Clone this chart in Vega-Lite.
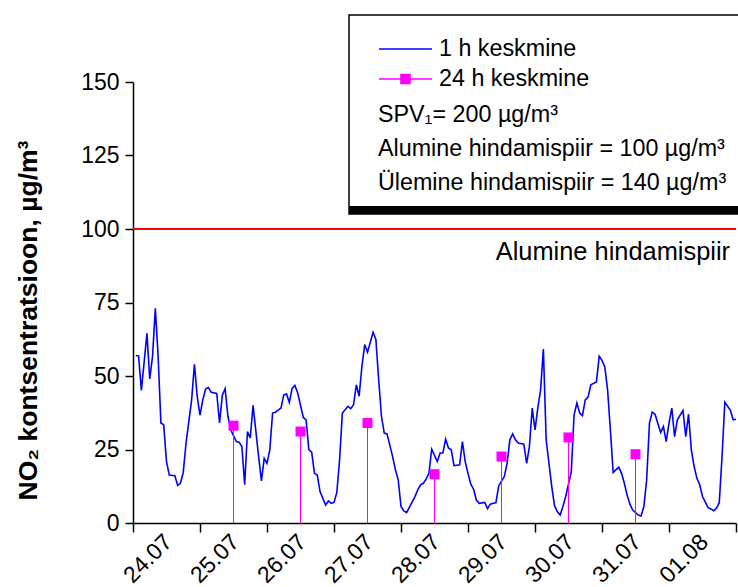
{
  "$schema": "https://vega.github.io/schema/vega-lite/v6.json",
  "width": 603,
  "height": 441,
  "autosize": {"type": "none"},
  "padding": {"left": 133, "top": 82, "right": 2, "bottom": 64},
  "background": "white",
  "config": {
    "view": {"stroke": null},
    "font": "Liberation Sans"
  },
  "datasets": {
    "hourly": [
      {"hour": 1, "no2": 57.0}, {"hour": 2, "no2": 56.8}, {"hour": 3, "no2": 45.1}, {"hour": 5, "no2": 64.5},
      {"hour": 6, "no2": 49.0}, {"hour": 7, "no2": 56.7}, {"hour": 8, "no2": 73.0}, {"hour": 9, "no2": 56.7},
      {"hour": 10, "no2": 34.0}, {"hour": 11, "no2": 33.4}, {"hour": 12, "no2": 20.9}, {"hour": 13, "no2": 16.3},
      {"hour": 15, "no2": 16.1}, {"hour": 16, "no2": 12.8}, {"hour": 17, "no2": 13.5}, {"hour": 18, "no2": 17.2},
      {"hour": 19, "no2": 27.2}, {"hour": 21, "no2": 41.9}, {"hour": 22, "no2": 54.0}, {"hour": 23, "no2": 43.1},
      {"hour": 24, "no2": 36.7}, {"hour": 25, "no2": 41.9}, {"hour": 26, "no2": 45.6}, {"hour": 27, "no2": 46.1},
      {"hour": 28, "no2": 44.5}, {"hour": 30, "no2": 44.1}, {"hour": 31, "no2": 34.0}, {"hour": 32, "no2": 43.5},
      {"hour": 33, "no2": 45.7}, {"hour": 34, "no2": 36.3}, {"hour": 35, "no2": 31.7}, {"hour": 37, "no2": 27.7},
      {"hour": 38, "no2": 27.5}, {"hour": 39, "no2": 26.0}, {"hour": 40, "no2": 13.0}, {"hour": 41, "no2": 31.1},
      {"hour": 42, "no2": 28.9}, {"hour": 43, "no2": 40.0}, {"hour": 45, "no2": 22.6}, {"hour": 46, "no2": 14.3},
      {"hour": 47, "no2": 22.0}, {"hour": 48, "no2": 20.3}, {"hour": 49, "no2": 24.9}, {"hour": 50, "no2": 37.4},
      {"hour": 51, "no2": 37.7}, {"hour": 53, "no2": 39.1}, {"hour": 54, "no2": 43.5}, {"hour": 55, "no2": 43.9},
      {"hour": 56, "no2": 41.0}, {"hour": 57, "no2": 45.8}, {"hour": 58, "no2": 46.8}, {"hour": 59, "no2": 44.2},
      {"hour": 61, "no2": 35.9}, {"hour": 62, "no2": 35.1}, {"hour": 63, "no2": 24.9}, {"hour": 64, "no2": 24.1},
      {"hour": 65, "no2": 16.9}, {"hour": 66, "no2": 16.3}, {"hour": 67, "no2": 10.7}, {"hour": 69, "no2": 6.1},
      {"hour": 70, "no2": 7.5}, {"hour": 71, "no2": 6.7}, {"hour": 72, "no2": 7.0}, {"hour": 73, "no2": 10.3},
      {"hour": 74, "no2": 21.5}, {"hour": 75, "no2": 37.4}, {"hour": 77, "no2": 39.7}, {"hour": 78, "no2": 38.9},
      {"hour": 79, "no2": 40.2}, {"hour": 80, "no2": 47.0}, {"hour": 81, "no2": 43.1}, {"hour": 82, "no2": 53.3},
      {"hour": 83, "no2": 60.7}, {"hour": 84, "no2": 58.1}, {"hour": 86, "no2": 64.9}, {"hour": 87, "no2": 62.4},
      {"hour": 88, "no2": 48.8}, {"hour": 89, "no2": 36.3}, {"hour": 90, "no2": 30.6}, {"hour": 91, "no2": 30.3},
      {"hour": 93, "no2": 22.6}, {"hour": 94, "no2": 18.1}, {"hour": 95, "no2": 14.7}, {"hour": 96, "no2": 5.6},
      {"hour": 97, "no2": 4.1}, {"hour": 98, "no2": 3.5}, {"hour": 99, "no2": 5.3}, {"hour": 101, "no2": 9.0},
      {"hour": 102, "no2": 11.3}, {"hour": 103, "no2": 13.0}, {"hour": 104, "no2": 13.5}, {"hour": 105, "no2": 14.9},
      {"hour": 106, "no2": 16.9}, {"hour": 107, "no2": 25.1}, {"hour": 109, "no2": 20.9}, {"hour": 110, "no2": 23.8},
      {"hour": 111, "no2": 23.8}, {"hour": 112, "no2": 28.5}, {"hour": 113, "no2": 25.5}, {"hour": 114, "no2": 24.9},
      {"hour": 115, "no2": 19.5}, {"hour": 117, "no2": 19.8}, {"hour": 118, "no2": 27.7}, {"hour": 119, "no2": 20.9},
      {"hour": 120, "no2": 16.9}, {"hour": 121, "no2": 13.2}, {"hour": 122, "no2": 11.5}, {"hour": 123, "no2": 7.8},
      {"hour": 124, "no2": 6.7}, {"hour": 126, "no2": 7.0}, {"hour": 127, "no2": 4.9}, {"hour": 128, "no2": 6.4},
      {"hour": 129, "no2": 6.7}, {"hour": 130, "no2": 6.9}, {"hour": 131, "no2": 12.6}, {"hour": 133, "no2": 15.8},
      {"hour": 134, "no2": 20.3}, {"hour": 135, "no2": 28.3}, {"hour": 136, "no2": 30.3}, {"hour": 137, "no2": 28.3},
      {"hour": 138, "no2": 27.2}, {"hour": 140, "no2": 26.8}, {"hour": 141, "no2": 20.3}, {"hour": 142, "no2": 26.0},
      {"hour": 143, "no2": 39.1}, {"hour": 144, "no2": 31.7}, {"hour": 145, "no2": 39.1}, {"hour": 146, "no2": 45.3},
      {"hour": 147, "no2": 59.2}, {"hour": 148, "no2": 28.3}, {"hour": 150, "no2": 12.4}, {"hour": 151, "no2": 5.8},
      {"hour": 152, "no2": 3.9}, {"hour": 153, "no2": 2.7}, {"hour": 154, "no2": 5.6}, {"hour": 155, "no2": 9.0},
      {"hour": 157, "no2": 17.5}, {"hour": 158, "no2": 36.8}, {"hour": 159, "no2": 40.8}, {"hour": 160, "no2": 37.4},
      {"hour": 161, "no2": 36.5}, {"hour": 162, "no2": 41.9}, {"hour": 163, "no2": 42.8}, {"hour": 164, "no2": 47.0},
      {"hour": 166, "no2": 48.0}, {"hour": 167, "no2": 56.7}, {"hour": 168, "no2": 55.3}, {"hour": 169, "no2": 53.1},
      {"hour": 170, "no2": 45.3}, {"hour": 171, "no2": 31.7}, {"hour": 172, "no2": 17.2}, {"hour": 174, "no2": 19.0},
      {"hour": 175, "no2": 16.9}, {"hour": 176, "no2": 13.5}, {"hour": 177, "no2": 9.5}, {"hour": 178, "no2": 6.4},
      {"hour": 179, "no2": 4.4}, {"hour": 181, "no2": 2.7}, {"hour": 182, "no2": 2.4}, {"hour": 183, "no2": 5.6},
      {"hour": 184, "no2": 14.7}, {"hour": 185, "no2": 34.0}, {"hour": 186, "no2": 37.7}, {"hour": 187, "no2": 37.0},
      {"hour": 189, "no2": 30.8}, {"hour": 190, "no2": 32.8}, {"hour": 191, "no2": 27.7}, {"hour": 192, "no2": 34.0},
      {"hour": 193, "no2": 39.1}, {"hour": 194, "no2": 29.4}, {"hour": 195, "no2": 35.1}, {"hour": 197, "no2": 38.3},
      {"hour": 198, "no2": 29.4}, {"hour": 199, "no2": 37.0}, {"hour": 200, "no2": 24.9}, {"hour": 201, "no2": 19.2},
      {"hour": 202, "no2": 15.2}, {"hour": 203, "no2": 13.0}, {"hour": 204, "no2": 9.0}, {"hour": 206, "no2": 5.2},
      {"hour": 207, "no2": 4.8}, {"hour": 208, "no2": 4.2}, {"hour": 209, "no2": 5.0}, {"hour": 210, "no2": 6.9},
      {"hour": 211, "no2": 22.6}, {"hour": 212, "no2": 41.1}, {"hour": 214, "no2": 38.3}, {"hour": 215, "no2": 35.1},
      {"hour": 216, "no2": 35.3}
    ],
    "daily": [
      {"hour": 36, "no2": 33.1}, {"hour": 60, "no2": 31.1}, {"hour": 84, "no2": 34.0}, {"hour": 108, "no2": 16.6},
      {"hour": 132, "no2": 22.6}, {"hour": 156, "no2": 29.1}, {"hour": 180, "no2": 23.4}
    ],
    "limits": [
      {"no2": 100, "label": "Alumine hindamispiir"}
    ]
  },
  "layer": [
    {
      "data": {"name": "limits"},
      "mark": {"type": "rule", "color": "#FF0000", "strokeWidth": 2},
      "encoding": {
        "y": {
          "field": "no2",
          "type": "quantitative",
          "scale": {"domain": [0, 150], "nice": false, "zero": false},
          "axis": {
            "values": [0, 12.5, 25, 37.5, 50, 62.5, 75, 87.5, 100, 112.5, 125, 137.5, 150],
            "labelExpr": "datum.value % 25 === 0 ? datum.label : ''",
            "tickSize": {"condition": {"test": "datum.value % 25 === 0", "value": 8}, "value": 4.5},
            "tickWidth": 1.5,
            "tickColor": "black",
            "domainColor": "black",
            "domainWidth": 1.5,
            "grid": false,
            "labelFont": "Liberation Sans",
            "labelFontSize": 23,
            "labelColor": "black",
            "labelPadding": 6,
            "labelOverlap": false,
            "title": "NO₂ kontsentratsioon, µg/m³",
            "titleFont": "Liberation Sans",
            "titleFontSize": 26.5,
            "titleFontWeight": "bold",
            "titleColor": "black",
            "titlePadding": 38,
            "titleY": 238
          }
        }
      }
    },
    {
      "data": {"name": "limits"},
      "mark": {
        "type": "text",
        "align": "right",
        "baseline": "alphabetic",
        "dx": -6,
        "dy": 31,
        "font": "Liberation Sans",
        "fontSize": 25.4,
        "color": "black"
      },
      "encoding": {
        "x": {"value": "width"},
        "y": {"field": "no2", "type": "quantitative"},
        "text": {"field": "label"}
      }
    },
    {
      "data": {"name": "hourly"},
      "mark": {"type": "line", "strokeWidth": 1.6},
      "encoding": {
        "x": {
          "field": "hour",
          "type": "quantitative",
          "scale": {"domain": [0, 216], "nice": false, "zero": false},
          "axis": {
            "values": [0, 24, 48, 72, 96, 120, 144, 168, 192, 216],
            "labelExpr": "datum.value < 216 ? (datum.value < 192 ? (24 + datum.value / 24) + '.07' : '01.08') : ''",
            "labelOffset": 35,
            "tickSize": 9,
            "tickWidth": 1.5,
            "tickColor": "black",
            "domainColor": "black",
            "domainWidth": 1.5,
            "grid": false,
            "labelAngle": -45,
            "labelAlign": "right",
            "labelBaseline": "middle",
            "labelPadding": 6,
            "labelFont": "Liberation Sans",
            "labelFontSize": 23,
            "labelColor": "black",
            "labelOverlap": false,
            "labelFlush": false,
            "title": null
          }
        },
        "y": {"field": "no2", "type": "quantitative"},
        "color": {
          "datum": "1 h keskmine",
          "type": "nominal",
          "scale": {"domain": ["1 h keskmine", "24 h keskmine"], "range": ["#0000FF", "#FF00FF"]},
          "legend": {
            "orient": "none",
            "legendX": 216,
            "legendY": -67,
            "direction": "vertical",
            "padding": 19,
            "strokeColor": "black",
            "symbolSize": 2809,
            "symbolStrokeWidth": 1.6,
            "symbolOffset": 10,
            "clipHeight": 30,
            "rowPadding": 0,
            "labelFont": "Liberation Sans",
            "labelFontSize": 23.3,
            "labelColor": "black",
            "labelOffset": 6,
            "labelLimit": 400,
            "title": ["SPV₁= 200 µg/m³", "Alumine hindamispiir = 100 µg/m³", "Ülemine hindamispiir = 140 µg/m³"],
            "titleOrient": "bottom",
            "titleAnchor": "start",
            "titleAlign": "left",
            "titleBaseline": "top",
            "titleFont": "Liberation Sans",
            "titleFontSize": 23.3,
            "titleFontWeight": "normal",
            "titleColor": "black",
            "titleLineHeight": 34,
            "titlePadding": 10,
            "titleLimit": 600,
            "encode": {
              "legend": {
                "update": {
                  "strokeWidth": {"value": 1.5},
                  "fill": {
                    "value": {
                      "gradient": "linear",
                      "x1": 0, "y1": 0, "x2": 0, "y2": 1,
                      "stops": [
                        {"offset": 0, "color": "white"},
                        {"offset": 0.958, "color": "white"},
                        {"offset": 0.96, "color": "black"},
                        {"offset": 1, "color": "black"}
                      ]
                    }
                  }
                }
              },
              "title": {"update": {"dx": {"value": 10}}},
              "symbols": {
                "update": {
                  "shape": {"signal": "datum.value === '24 h keskmine' ? 'M-1,0H1M-0.17,-0.17H0.17V0.17H-0.17Z' : 'M-1,0H1'"},
                  "fill": {"signal": "datum.value === '24 h keskmine' ? '#FF00FF' : 'transparent'"},
                  "stroke": {"signal": "datum.value === '24 h keskmine' ? '#FF00FF' : '#0000FF'"},
                  "strokeWidth": {"value": 1.6},
                  "opacity": {"value": 1}
                }
              }
            }
          }
        }
      }
    },
    {
      "data": {"name": "daily"},
      "mark": {"type": "rule", "strokeWidth": 1},
      "encoding": {
        "x": {"field": "hour", "type": "quantitative"},
        "y": {"field": "no2", "type": "quantitative"},
        "y2": {"datum": 0},
        "color": {"datum": "24 h keskmine", "type": "nominal"}
      }
    },
    {
      "data": {"name": "daily"},
      "mark": {"type": "point", "shape": "square", "filled": true, "size": 100, "opacity": 1},
      "encoding": {
        "x": {"field": "hour", "type": "quantitative"},
        "y": {"field": "no2", "type": "quantitative"},
        "color": {"datum": "24 h keskmine", "type": "nominal"}
      }
    }
  ]
}
